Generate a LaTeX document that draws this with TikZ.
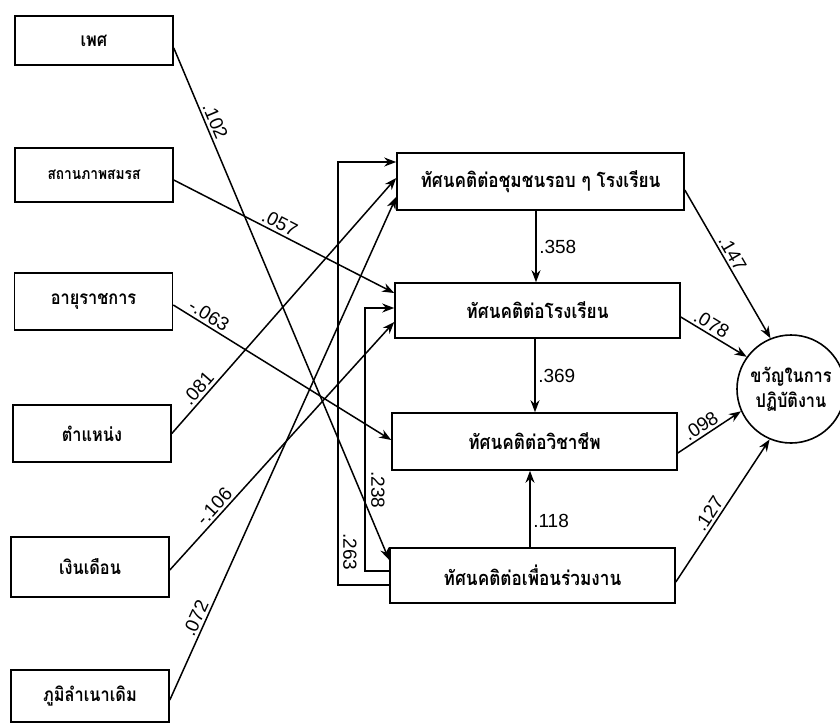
\documentclass[tikz,border=0pt]{standalone}
\usepackage{fontspec}
\newfontfamily\thaifont[Script=Thai, FakeStretch=0.86]{Loma}
\newfontfamily\numfont{Liberation Sans}
\usetikzlibrary{arrows.meta,calc}
\begin{document}
\begin{tikzpicture}[x=1pt,y=-1pt,
  box/.style={draw, line width=1.6pt, minimum width=158pt, font=\thaifont\bfseries\fontsize{19}{21}\selectfont, inner sep=0pt, align=center},
  mbox/.style={box, minimum width=285pt, font=\thaifont\bfseries\fontsize{20}{22}\selectfont},
  link/.style={line width=1.5pt},
  arr/.style={link, -{Stealth[length=12pt,width=9pt]}},
  lab/.style={font=\numfont\fontsize{19}{19}\selectfont, inner sep=2.5pt}
]
\useasboundingbox (0,0) rectangle (840,724);
% left boxes
\node[box, minimum height=49pt] (g) at (94,40.5) {เพศ};
\node[box, minimum height=54pt, font=\thaifont\bfseries\fontsize{16}{18}\selectfont] (m) at (94,175) {สถานภาพสมรส};
\node[box, minimum height=57pt] (s) at (93.5,301.5) {อายุราชการ};
\node[box, minimum height=57pt] (p) at (92,433.5) {ตำแหน่ง};
\node[box, minimum height=60pt] (w) at (90,567) {เงินเดือน};
\node[box, minimum height=52pt] (h) at (90,696) {ภูมิลำเนาเดิม};
% middle boxes
\node[mbox, minimum width=287pt, minimum height=57pt] (b1) at (540.5,181.5) {ทัศนคติต่อชุมชนรอบ ๆ โรงเรียน};
\node[mbox, minimum height=55pt] (b2) at (537.5,310.5) {ทัศนคติต่อโรงเรียน};
\node[mbox, minimum height=57pt] (b3) at (534.5,441.5) {ทัศนคติต่อวิชาชีพ};
\node[mbox, minimum height=55pt] (b4) at (532.5,575.5) {ทัศนคติต่อเพื่อนร่วมงาน};
% outcome
\node[circle, draw, line width=1.6pt, minimum size=108pt, inner sep=0pt, align=center,
      font=\thaifont\bfseries\fontsize{19}{25}\selectfont] (c) at (791,389) {ขวัญในการ\\ปฏิบัติงาน};
% left to middle
\draw[arr] ([yshift=-7.5pt]g.east) -- ([yshift=15.5pt]b4.west) node[lab, sloped, above, pos=0.15] (l102) {.102};
\draw[arr] ([yshift=-5pt]m.east) -- ([yshift=17.5pt]b2.west) node[lab, sloped, above, pos=0.46] (l057) {.057};
\draw[arr] ([yshift=-3.5pt]s.east) -- ([yshift=1.5pt]b3.west) node[lab, sloped, above, pos=0.14] (l063) {-.063};
\draw[arr] (p.east) -- ([yshift=3.5pt]b1.west) node[lab, sloped, above, pos=0.15] (l081) {.081};
\draw[arr] ([yshift=-3pt]w.east) -- ([yshift=-11.5pt]b2.west) node[lab, sloped, above, pos=0.23] (l106) {-.106};
\draw[arr] ([yshift=-4pt]h.east) -- ([yshift=-15.5pt]b1.west) node[lab, sloped, above, pos=0.154] (l072) {.072};
% feedback from b4
\draw[arr] ([yshift=-9.5pt]b4.west) -- ++(-51,0) |- ([yshift=19.5pt]b1.west);
\draw[arr] ([yshift=4.5pt]b4.west) -- ++(-24,0) |- ([yshift=2.5pt]b2.west);
\node[lab, rotate=-90] (l263) at (350,552) {.263};
\node[lab, rotate=-90] (l238) at (378,490) {.238};
% vertical
\draw[arr] ([xshift=-4.5pt]b1.south) -- ([xshift=-1.5pt]b2.north) node[lab, midway, right] (l358) {.358};
\draw[arr] ([xshift=-2.5pt]b2.south) -- ([xshift=0.5pt]b3.north) node[lab, midway, right] (l369) {.369};
\draw[arr] ([xshift=-2.5pt]b4.north) -- ([xshift=-4.5pt]b3.south) node[lab, pos=0.35, right] (l118) {.118};
% to outcome
\draw[arr] ([yshift=-8.5pt]b1.east) -- (c.112) node[lab, sloped, above, pos=0.46] (l147) {.147};
\draw[arr] ([yshift=-6.5pt]b2.east) -- (c.144) node[lab, sloped, above, pos=0.39] (l078) {.078};
\draw[arr] ([yshift=-11.5pt]b3.east) -- (c.204) node[lab, sloped, above, pos=0.45] (l098) {.098};
\draw[arr] ([yshift=-6.5pt]b4.east) -- (c.247) node[lab, sloped, above, pos=0.44] (l127) {.127};
\end{tikzpicture}
\end{document}
